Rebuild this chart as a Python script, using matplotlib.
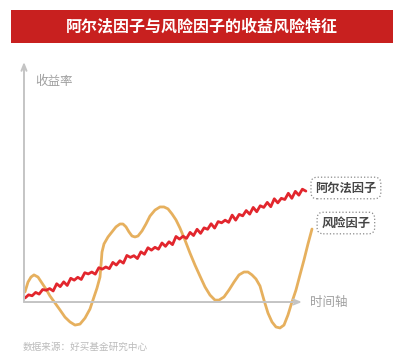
import numpy as np
import matplotlib
matplotlib.use("Agg")
import matplotlib.pyplot as plt
from matplotlib.patches import Rectangle

plt.rcParams["font.family"] = ["Noto Sans CJK SC", "DejaVu Sans"]

# ============================================================
# 数据 (示意曲线, 从原图读取)
# ============================================================
TITLE = "阿尔法因子与风险因子的收益风险特征"
Y_LABEL = "收益率"
X_LABEL = "时间轴"
SOURCE = "数据来源：好买基金研究中心"
ALPHA_NAME = "阿尔法因子"
RISK_NAME = "风险因子"

# 风险因子: 大幅波动
risk_t = [0.36, 1.44, 2.52, 3.60, 5.04, 6.47, 7.91, 9.35, 11.15, 12.95,
          14.75, 16.55, 18.35, 20.14, 21.94, 23.74, 25.18, 26.26, 27.34, 27.70,
          28.06, 28.78, 30.22, 31.65, 33.09, 34.53, 35.61, 36.69, 37.77, 38.85,
          39.93, 41.01, 42.45, 43.88, 45.32, 47.12, 48.92, 50.36, 51.80, 53.24,
          54.68, 56.12, 57.91, 59.71, 61.51, 63.31, 65.11, 66.91, 68.71, 70.14,
          71.94, 73.74, 75.54, 77.34, 79.14, 80.58, 82.01, 83.45, 84.89, 86.33,
          87.77, 89.21, 90.65, 92.09, 93.53, 94.96, 96.40, 97.84, 99.28, 100.72,
          102.16, 103.60]
risk_r = [4.2, 8.3, 10.4, 11.3, 10.4, 7.9, 5.4, 2.5, -0.4, -3.3,
          -6.3, -8.3, -9.6, -9.2, -6.7, -2.9, 2.1, 5.8, 10.4, 15.4,
          20.8, 24.2, 27.1, 29.2, 31.3, 32.5, 32.5, 31.3, 29.2, 27.5,
          27.1, 27.5, 29.6, 32.5, 35.8, 38.3, 39.6, 39.6, 38.8, 36.7,
          34.2, 30.8, 25.8, 20.4, 15.4, 10.8, 6.3, 2.9, 0.8, 0.8,
          2.1, 5.0, 8.3, 11.3, 12.5, 12.5, 11.3, 9.6, 6.7, 0.8,
          -4.6, -8.3, -10.4, -10.8, -9.6, -5.4, 0.0, 5.0, 11.3, 17.5,
          24.2, 30.4]

# 阿尔法因子: 稳定上升, 小幅抖动
alpha_t = np.linspace(0.4, 101.4, 81)
alpha_r = [1.7, 3.0, 2.6, 4.0, 3.3, 5.2, 4.9, 5.6, 4.6, 7.6,
           6.4, 8.4, 6.9, 9.9, 9.1, 10.3, 9.4, 12.2, 11.7, 12.5,
           11.6, 14.3, 13.7, 14.6, 13.9, 16.5, 15.4, 17.2, 16.2, 19.4,
           18.6, 19.3, 18.1, 20.9, 19.9, 22.6, 21.6, 22.8, 22.0, 24.6,
           23.2, 25.1, 23.9, 27.3, 26.2, 27.4, 26.5, 29.0, 27.7, 30.3,
           28.6, 30.9, 30.3, 32.6, 30.8, 33.5, 33.0, 34.1, 33.2, 36.2,
           34.1, 36.5, 35.9, 38.1, 36.6, 39.4, 37.6, 40.1, 39.4, 41.5,
           39.7, 43.0, 41.3, 43.2, 42.7, 45.3, 43.2, 46.1, 44.5, 47.0,
           46.2]

# ============================================================
# 绘图
# ============================================================
fig = plt.figure(figsize=(4.04, 3.63), dpi=100)
ax = fig.add_axes([0, 0, 1, 1])
ax.set_xlim(-8.63, 136.7)
ax.set_ylim(-25.4, 125.8)
ax.axis("off")

# 标题红条
fig.patches.append(Rectangle((0.027, 0.8815), 0.9455, 0.091,
                             transform=fig.transFigure, facecolor="#C8201F",
                             edgecolor="none"))
fig.text(0.5, 0.927, TITLE, ha="center", va="center", color="white",
         fontsize=11.5, fontweight="bold")

# 坐标轴箭头
axis_color = "#C4C4C4"
for end in [(0, 100), (100, 0)]:
    ax.annotate("", xy=end, xytext=(0, 0),
                arrowprops=dict(arrowstyle="->,head_length=0.45,head_width=0.18",
                                color=axis_color, lw=1.4, shrinkA=0, shrinkB=0))
ax.text(3.9, 91.7, Y_LABEL, ha="left", va="center", color="#A0A0A0", fontsize=9)
ax.text(103.0, 0, X_LABEL, ha="left", va="center", color="#A0A0A0", fontsize=9)

# 曲线
ax.plot(risk_t, risk_r, color="#E6B05E", lw=2.0, solid_capstyle="round")
ax.plot(alpha_t, alpha_r, color="#E2262D", lw=2.0, solid_joinstyle="round",
        solid_capstyle="round")

# 图例标签
box = dict(boxstyle="round,pad=0.35,rounding_size=0.5", facecolor="white",
           edgecolor="#8A8A8A", linestyle=":", lw=0.9)
ax.text(115.8, 47.5, ALPHA_NAME, ha="center", va="center", color="#454545",
        fontsize=8.8, fontweight="bold", bbox=box)
ax.text(115.8, 32.9, RISK_NAME, ha="center", va="center", color="#454545",
        fontsize=8.8, fontweight="bold", bbox=box)

fig.text(0.057, 0.044, SOURCE, ha="left", va="center", color="#BBBBBB",
         fontsize=6.9)

fig.savefig("out.png", dpi=100)
